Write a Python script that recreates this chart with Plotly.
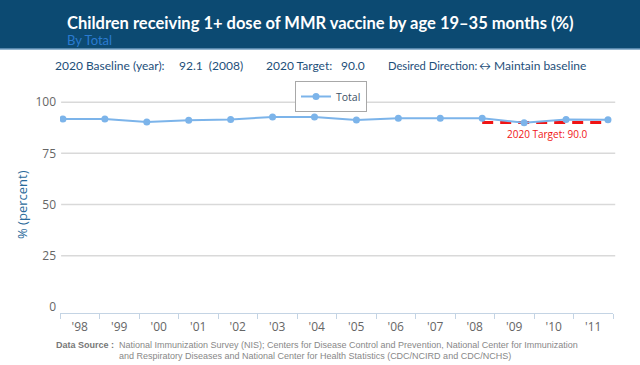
import plotly.graph_objects as go

years = ["'98", "'99", "'00", "'01", "'02", "'03", "'04", "'05", "'06", "'07", "'08", "'09", "'10", "'11"]
total = [91.8, 91.8, 90.3, 91.2, 91.5, 92.8, 92.8, 91.3, 92.1, 92.1, 92.1, 89.9, 91.5, 91.4]
target_years = ["'08", "'09", "'10", "'11"]
target_value = 90.0
y_ticks = [0, 25, 50, 75, 100]

idx = {y: i for i, y in enumerate(years)}

L, R, T, B = 60, 613, 96, 313
W, H = R - L, B - T


def px(x):
    return (x - L) / W


def py(y):
    return (B - y) / H


fig = go.Figure()

fig.add_trace(go.Scatter(
    x=[idx[y] for y in target_years], y=[target_value] * len(target_years),
    mode="lines", line=dict(color="#f01414", width=3, dash="11px,7px"),
    showlegend=False, hoverinfo="skip"))

fig.add_trace(go.Scatter(
    x=list(range(len(years))), y=total, name="Total",
    mode="lines+markers",
    line=dict(color="#7cb4ea", width=2),
    marker=dict(size=7, color="#7cb4ea")))

# dummy trace for category axis
fig.add_trace(go.Scatter(x=years, y=[None] * len(years), xaxis="x2",
                         showlegend=False, hoverinfo="skip"))

for v in y_ticks[1:]:
    fig.add_shape(type="line", xref="paper", x0=0.002, x1=1.004, yref="y", y0=v, y1=v,
                  line=dict(color="#d9d9d9", width=1.5), layer="below")

fig.add_annotation(x=11.55, y=target_value, xref="x", yref="y", yshift=-11,
                   text="2020 Target: 90.0", showarrow=False,
                   font=dict(family="Open Sans", size=10, color="#f01414"))

# header band
fig.add_shape(type="rect", xref="paper", yref="paper",
              x0=-1, x1=2, y0=py(49), y1=2, fillcolor="#0c4a72", line=dict(width=0), layer="below")
fig.add_shape(type="line", xref="paper", yref="paper",
              x0=-1, x1=2, y0=py(49), y1=py(49), line=dict(color="#6f9cc0", width=1.5))

fig.add_annotation(xref="paper", yref="paper", x=px(65), y=py(22.5), xanchor="left", yanchor="middle",
                   text="<b>Children receiving 1+ dose of MMR vaccine by age 19–35 months (%)</b>",
                   showarrow=False, font=dict(family="Lato", size=16.5, color="white"))
fig.add_annotation(xref="paper", yref="paper", x=px(65), y=py(40), xanchor="left", yanchor="middle",
                   text="By Total", showarrow=False,
                   font=dict(family="Lato", size=13, color="#2a7bd0"))

info_color = "#1e4f7a"
for xpos, txt, sz in [(53, "2020 Baseline (year):", 12), (177, "92.1  (2008)", 12),
                      (264, "2020 Target:", 12), (339, "90.0", 12),
                      (386, "Desired Direction:", 11.2), (477, "↔ Maintain baseline", 12)]:
    fig.add_annotation(xref="paper", yref="paper", x=px(xpos), y=py(65),
                       xanchor="left", yanchor="middle", text=txt, showarrow=False,
                       font=dict(family="Lato", size=sz, color=info_color))

src_font = dict(family="Liberation Sans", size=9, color="#888888")
fig.add_annotation(xref="paper", yref="paper", x=px(54), y=py(345), xanchor="left", yanchor="middle",
                   text="<b>Data Source :</b>", showarrow=False,
                   font=dict(family="Liberation Sans", size=9, color="#777777"))
fig.add_annotation(xref="paper", yref="paper", x=px(117), y=py(345), xanchor="left", yanchor="middle",
                   text="National Immunization Survey (NIS); Centers for Disease Control and Prevention, National Center for Immunization",
                   showarrow=False, font=src_font)
fig.add_annotation(xref="paper", yref="paper", x=px(117), y=py(356), xanchor="left", yanchor="middle",
                   text="and Respiratory Diseases and National Center for Health Statistics (CDC/NCIRD and CDC/NCHS)",
                   showarrow=False, font=src_font)

# y-axis title
fig.add_annotation(xref="paper", yref="paper", x=px(22), y=py(205), xanchor="center", yanchor="middle",
                   text="% (percent)", textangle=-90, showarrow=False,
                   font=dict(family="Open Sans", size=13, color="#2a6a9a"))

fig.update_layout(
    width=640, height=365,
    margin=dict(l=L, r=640 - R, t=T, b=365 - B, autoexpand=False),
    paper_bgcolor="white", plot_bgcolor="white",
    showlegend=True,
    legend=dict(x=px(331), y=py(81), xanchor="center", yanchor="top", orientation="h",
                bordercolor="#a8a8a8", borderwidth=1, bgcolor="white",
                font=dict(family="Open Sans", size=10.5, color="#3d5166"),
                itemwidth=30, tracegroupgap=0),
    xaxis=dict(range=[-0.07, 13.12], showgrid=False, showticklabels=False,
               zeroline=False, showline=False, ticks="", automargin=False),
    xaxis2=dict(overlaying="x", side="bottom", type="category", range=[-0.5, 13.5],
                showgrid=False, zeroline=False, showline=True, linecolor="#c4d4e4", linewidth=1,
                ticks="outside", tickson="boundaries", ticklen=5, tickcolor="#c4d4e4",
                ticklabelstandoff=3, automargin=False,
                tickfont=dict(family="Open Sans", size=12, color="#666666")),
    yaxis=dict(range=[-3, 103], tickvals=y_ticks, showgrid=False, zeroline=False,
               showline=False, ticks="", ticklabelstandoff=3, automargin=False,
               tickfont=dict(family="Open Sans", size=12, color="#666666")),
    hovermode=False,
)

fig.write_html("out.html", config={"displayModeBar": False},
               post_script="document.body.style.margin='0';")
